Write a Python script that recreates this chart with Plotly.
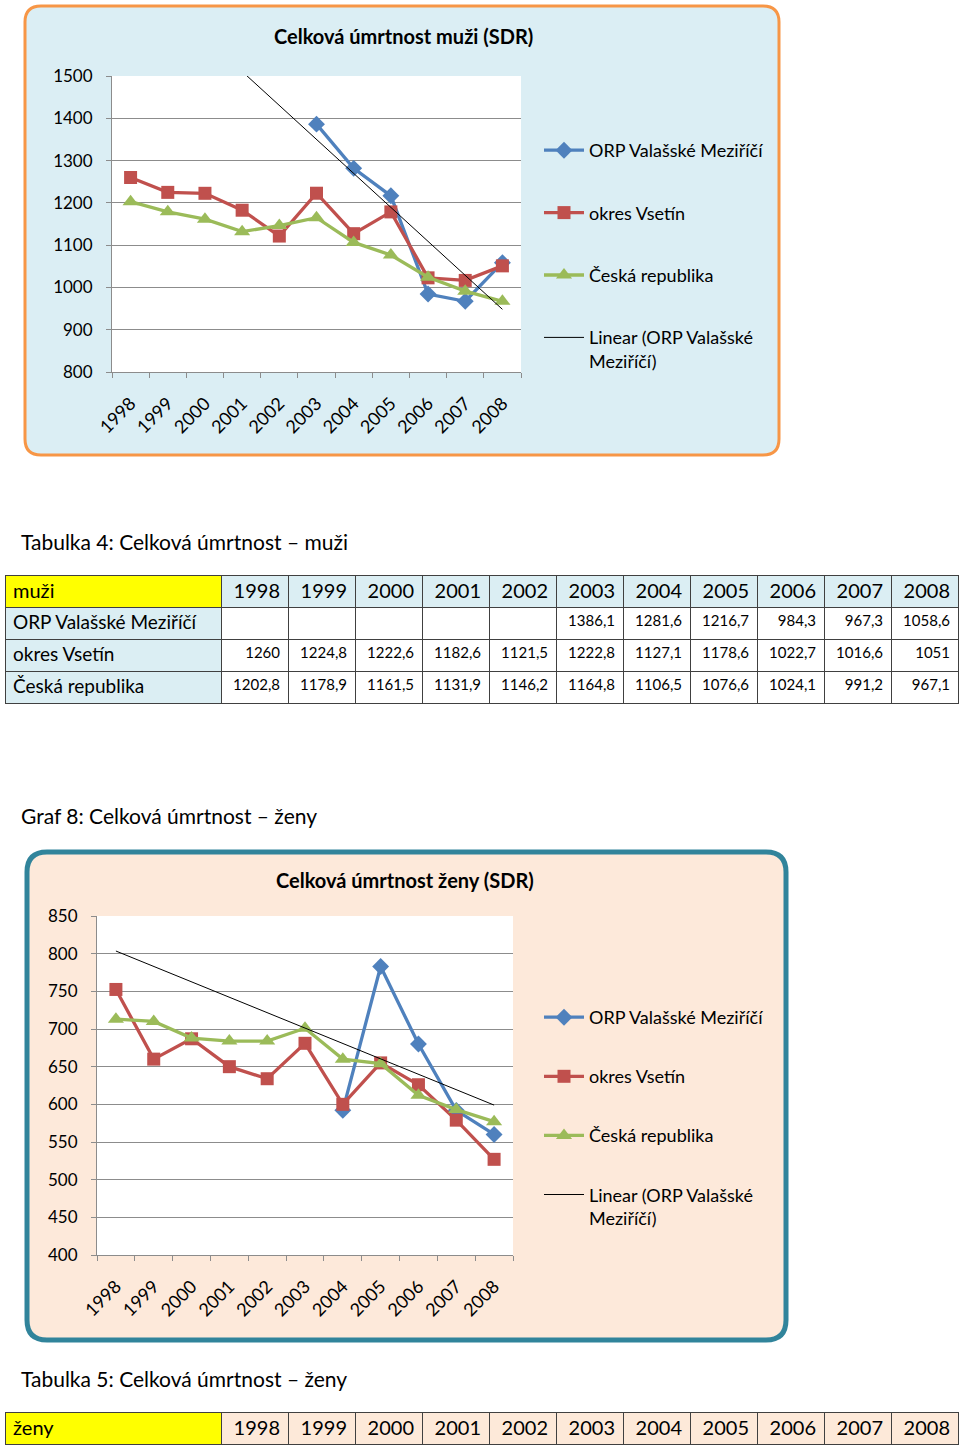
import numpy as np
import plotly.graph_objects as go

# ---------------- data ----------------
years = ["1998", "1999", "2000", "2001", "2002", "2003", "2004", "2005", "2006", "2007", "2008"]
series_names = ["ORP Valašské Meziříčí", "okres Vsetín", "Česká republika"]
trend_name = "Linear (ORP Valašské<br>Meziříčí)"

men_orp = [None, None, None, None, None, 1386.1, 1281.6, 1216.7, 984.3, 967.3, 1058.6]
men_okres = [1260, 1224.8, 1222.6, 1182.6, 1121.5, 1222.8, 1127.1, 1178.6, 1022.7, 1016.6, 1051]
men_cr = [1202.8, 1178.9, 1161.5, 1131.9, 1146.2, 1164.8, 1106.5, 1076.6, 1024.1, 991.2, 967.1]

women_orp = [None, None, None, None, None, None, 592, 783, 680, 592, 560]
women_okres = [752.5, 660, 687, 650, 634, 681, 600, 655, 626, 579, 527]
women_cr = [713, 710, 688, 684, 684, 701, 660, 654, 612, 593, 577]
women_trend_years = ["1998", "2008"]
women_trend_values = [803.5, 599]

men_table_head = "muži"
women_table_head = "ženy"
men_title = "Celková úmrtnost muži (SDR)"
women_title = "Celková úmrtnost ženy (SDR)"
caption_t4 = "Tabulka 4: Celková úmrtnost – muži"
caption_g8 = "Graf 8: Celková úmrtnost – ženy"
caption_t5 = "Tabulka 5: Celková úmrtnost – ženy"

# ---------------- layout helpers ----------------
W, H = 960, 1451
FONT = "Lato"
BLUE, RED, GREEN = "#4f81bd", "#c0504d", "#9bbb59"
GRID = "#8c8c8c"


def px(x):
    return x / W


def py(y):
    return 1 - y / H


def rounded_path(x0, y0, x1, y1, r):
    rx, ry = r / W, r / H
    X0, X1 = px(x0), px(x1)
    Y0, Y1 = py(y0), py(y1)  # Y0 top, Y1 bottom
    return (f"M{X0 + rx},{Y0} L{X1 - rx},{Y0} Q{X1},{Y0} {X1},{Y0 - ry} "
            f"L{X1},{Y1 + ry} Q{X1},{Y1} {X1 - rx},{Y1} L{X0 + rx},{Y1} "
            f"Q{X0},{Y1} {X0},{Y1 + ry} L{X0},{Y0 - ry} Q{X0},{Y0} {X0 + rx},{Y0} Z")


def fmt(v):
    if v is None:
        return ""
    return f"{v:g}".replace(".", ",")


fig = go.Figure()

# men trendline (linear regression on available ORP points, as in Excel)
idx = [i for i, v in enumerate(men_orp) if v is not None]
coef = np.polyfit(idx, [men_orp[i] for i in idx], 1)
men_trend_values = list(np.polyval(coef, [0, len(years) - 1]))
men_trend_years = [years[0], years[-1]]

markers = [dict(symbol="diamond", size=13, color=BLUE),
           dict(symbol="square", size=13, color=RED),
           dict(symbol="triangle-up", size=14, color=GREEN)]
colors = [BLUE, RED, GREEN]

for k, (data, xa, ya, lg, tx, ty) in enumerate([
    ((men_orp, men_okres, men_cr), "x", "y", "legend", men_trend_years, men_trend_values),
    ((women_orp, women_okres, women_cr), "x2", "y2", "legend2", women_trend_years, women_trend_values),
]):
    for i, s in enumerate(data):
        fig.add_trace(go.Scatter(
            x=years, y=s, name=series_names[i], mode="lines+markers",
            line=dict(color=colors[i], width=3.3), marker=markers[i],
            xaxis=xa, yaxis=ya, legend=lg, legendgroup=f"{lg}{i}",
            connectgaps=False, hoverinfo="skip"))
    fig.add_trace(go.Scatter(
        x=tx, y=ty, name=trend_name, mode="lines",
        line=dict(color="#000000", width=1), xaxis=xa, yaxis=ya,
        legend=lg, legendgroup=f"{lg}t", hoverinfo="skip"))

# ---------------- tables ----------------
col_w = [216] + [67] * 11
blue_cell = "#dbeef3"
peach_cell = "#fde9d9"

men_rows = [men_orp, men_okres, men_cr]
cells_vals = [series_names] + [[fmt(r[j]) for r in men_rows] for j in range(len(years))]
fig.add_trace(go.Table(
    domain=dict(x=[px(5), px(958)], y=[py(720), py(575)]),
    columnwidth=col_w,
    header=dict(values=[men_table_head] + years,
                fill_color=["#ffff00"] + [blue_cell] * 11,
                align=["left"] + ["right"] * 11,
                font=dict(family=FONT, size=20, color="black"),
                line=dict(color="#404040", width=1), height=32),
    cells=dict(values=cells_vals,
               fill_color=[blue_cell] + ["white"] * 11,
               align=["left"] + ["right"] * 11,
               font=dict(family=FONT, size=[19] + [15] * 11, color="black"),
               line=dict(color="#404040", width=1), height=32),
))

fig.add_trace(go.Table(
    domain=dict(x=[px(5), px(958)], y=[py(1450), py(1412)]),
    columnwidth=col_w,
    header=dict(values=[women_table_head] + years,
                fill_color=["#ffff00"] + [peach_cell] * 11,
                align=["left"] + ["right"] * 11,
                font=dict(family=FONT, size=20, color="black"),
                line=dict(color="#404040", width=1), height=32),
    cells=dict(values=[[] for _ in range(12)]),
))

# ---------------- axes ----------------
common_x = dict(type="category", tickson="boundaries", ticks="outside", ticklen=5,
                tickcolor=GRID, showline=True, linecolor=GRID, linewidth=1,
                tickangle=-45, showgrid=False, ticklabelstandoff=13,
                tickfont=dict(family=FONT, size=18, color="black"),
                range=[-0.5, 10.5], fixedrange=True, automargin=False)
common_y = dict(showline=True, linecolor=GRID, linewidth=1, ticks="outside", ticklen=5,
                tickcolor=GRID, gridcolor=GRID, gridwidth=1, zeroline=False,
                tickfont=dict(family=FONT, size=17, color="black"),
                ticklabelstandoff=10, fixedrange=True, automargin=False)

fig.update_layout(
    width=W, height=H, autosize=False,
    margin=dict(l=0, r=0, t=0, b=0, pad=0, autoexpand=False),
    paper_bgcolor="white", plot_bgcolor="white",
    font=dict(family=FONT, color="black"),
    xaxis=dict(domain=[px(112), px(521)], anchor="y", **common_x),
    yaxis=dict(domain=[py(372), py(76)], anchor="x", range=[800, 1500], dtick=100, **common_y),
    xaxis2=dict(domain=[px(97), px(513)], anchor="y2", **common_x),
    yaxis2=dict(domain=[py(1255), py(916)], anchor="x2", range=[400, 850], dtick=50, **common_y),
    legend=dict(x=px(539), y=py(132), xanchor="left", yanchor="top", itemwidth=40,
                bgcolor="rgba(0,0,0,0)", font=dict(family=FONT, size=18, color="black"),
                tracegroupgap=36, valign="top"),
    legend2=dict(x=px(539), y=py(999), xanchor="left", yanchor="top", itemwidth=40,
                 bgcolor="rgba(0,0,0,0)", font=dict(family=FONT, size=18, color="black"),
                 tracegroupgap=32.7, valign="top"),
    showlegend=True,
)

shapes = [
    dict(type="path", path=rounded_path(25, 6, 779, 455, 16), xref="paper", yref="paper",
         fillcolor="#dbeef4", line=dict(color="#f79646", width=3), layer="below"),
    dict(type="path", path=rounded_path(27, 852, 786, 1340, 20), xref="paper", yref="paper",
         fillcolor="#fde9da", line=dict(color="#31849b", width=5), layer="below"),
    dict(type="rect", xref="x domain", yref="y domain", x0=0, x1=1, y0=0, y1=1,
         fillcolor="white", line=dict(width=0), layer="below"),
    dict(type="rect", xref="x2 domain", yref="y2 domain", x0=0, x1=1, y0=0, y1=1,
         fillcolor="white", line=dict(width=0), layer="below"),
]
fig.update_layout(shapes=shapes)

ann = [
    dict(text=f"<b>{men_title}</b>", x=px(403), y=py(36), font=dict(size=20),
         xanchor="center", yanchor="middle"),
    dict(text=f"<b>{women_title}</b>", x=px(405), y=py(880), font=dict(size=20),
         xanchor="center", yanchor="middle"),
    dict(text=caption_t4, x=px(19), y=py(541), font=dict(size=21), xanchor="left", yanchor="middle"),
    dict(text=caption_g8, x=px(19), y=py(815), font=dict(size=21), xanchor="left", yanchor="middle"),
    dict(text=caption_t5, x=px(19), y=py(1378), font=dict(size=21), xanchor="left", yanchor="middle"),
]
for a in ann:
    a.update(xref="paper", yref="paper", showarrow=False)
    a["font"].update(family=FONT, color="black")
fig.update_layout(annotations=ann)

fig.write_html("out.html", post_script="document.body.style.margin='0';",
               config={"displayModeBar": False})
